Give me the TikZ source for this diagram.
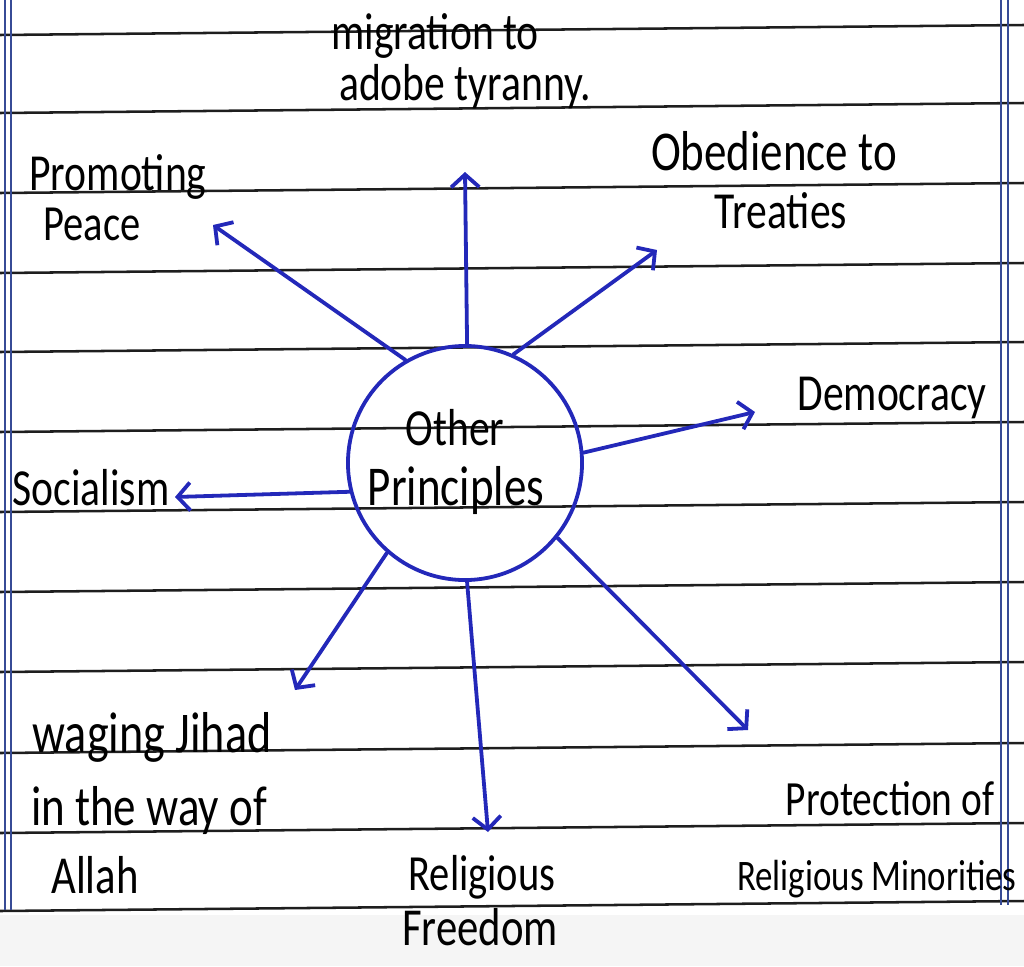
\documentclass[tikz,border=0pt]{standalone}
\usepackage{fontspec}
\setmainfont{Carlito}[FakeStretch=0.8]
\usetikzlibrary{arrows.meta}
\definecolor{pen}{RGB}{35,40,185}
\definecolor{rule}{RGB}{30,30,30}
\definecolor{margin}{RGB}{55,75,150}
\tikzset{
  x=0.025cm, y=-0.025cm,
  ruled/.style={draw=rule, line width=1.8pt},
  marginline/.style={draw=margin, line width=1.1pt},
  hand/.style={anchor=base, inner sep=0pt, text=black, font=\fontsize{#1}{#1}\selectfont},
  hub/.style={circle, draw=pen, line width=2.7pt, minimum size=5.85cm, inner sep=0pt},
  spoke/.style={draw=pen, line width=2.7pt, line cap=round, -{Straight Barb[length=9pt,width=20pt,line width=2.7pt]}}
}
\begin{document}
\begin{tikzpicture}
\useasboundingbox (0,0) rectangle (1024,966);
\fill[gray!8] (0,915) rectangle (1024,966);
% ruled lines
\foreach \yy in {30,108,188,268,347,427,507,587,667,748,828,906}
  \draw[ruled] (0,\yy+5) -- (1024,\yy-5);
% margin lines
\draw[marginline] (5,0) -- (5,910);
\draw[marginline] (11,0) -- (11,910);
\draw[marginline] (1001,0) -- (1001,905);
\draw[marginline] (1008,0) -- (1008,905);

% centre
\node[hub] (c) at (465,463) {};
\node[hand=37] (o1) at (455,445) {Other};
\node[hand=40] (o2) at (456,505) {Principles};

% labels
\node[hand=37] (m1) at (435,50) {migration to};
\node[hand=37] (m2) at (465,100) {adobe tyranny.};
\node[hand=37] (p1) at (118,190) {Promoting};
\node[hand=36] (p2) at (92,240) {Peace};
\node[hand=40] (t1) at (774,170) {Obedience to};
\node[hand=37] (t2) at (781,228) {Treaties};
\node[hand=37] (d1) at (892,410) {Democracy};
\node[hand=37] (s1) at (91,505) {Socialism};
\node[hand=41] (j1) at (152,752) {waging Jihad};
\node[hand=40] (j2) at (149,825) {in the way of};
\node[hand=38] (j3) at (95,893) {Allah};
\node[hand=36] (f1) at (482,890) {Religious};
\node[hand=38] (f2) at (480,945) {Freedom};
\node[hand=35] (r1) at (890,815) {Protection of};
\node[hand=31] (r2) at (877,890) {Religious Minorities};

% arrow ends
\coordinate (ePeace) at (213,225);
\coordinate (eMig) at (465,172);
\coordinate (eTreat) at (657,250);
\coordinate (eDemo) at (755,412);
\coordinate (eSoc) at (175,497);
\coordinate (eJih) at (295,690);
\coordinate (eFree) at (488,832);
\coordinate (eProt) at (748,730);

\draw[spoke] (c.120) -- (ePeace);
\draw[spoke] (c.89) -- (eMig);
\draw[spoke] (c.66) -- (eTreat);
\draw[spoke] (c.5) -- (eDemo);
\draw[spoke] (c.194) -- (eSoc);
\draw[spoke] (c.229) -- (eJih);
\draw[spoke] (c.271) -- (eFree);
\draw[spoke] (c.321) -- (eProt);
\end{tikzpicture}
\end{document}
